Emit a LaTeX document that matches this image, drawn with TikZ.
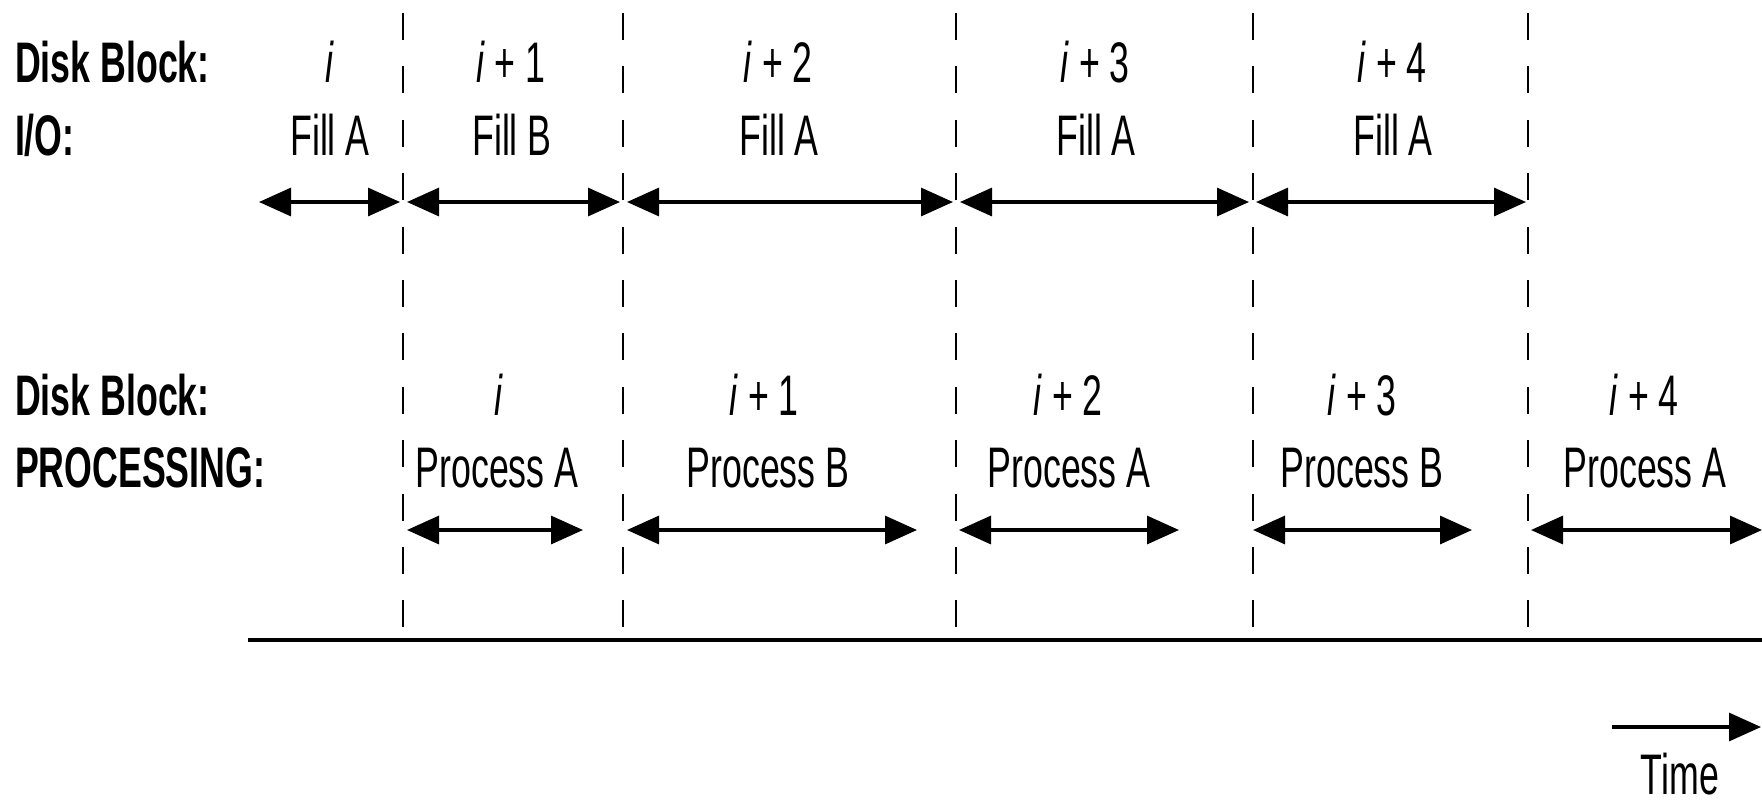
\documentclass[tikz,border=0pt]{standalone}
\usepackage{fontspec}
\setmainfont{Liberation Sans}[FakeStretch=0.625]
\usetikzlibrary{arrows.meta}
\begin{document}
\begin{tikzpicture}[x=0.5pt,y=-0.5pt,
  every node/.style={inner sep=0pt,outer sep=0pt,font=\fontsize{28.6}{34}\selectfont},
  lbl/.style={anchor=base},
  head/.style={anchor=base west,font=\fontsize{28.6}{34}\selectfont\bfseries},
  guide/.style={line width=1.2pt,dash pattern=on 13.5pt off 13.2pt},
  span/.style={line width=1.6pt,{Triangle[length=16pt,width=14pt]}-{Triangle[length=16pt,width=14pt]}},
  timearrow/.style={line width=1.6pt,-{Triangle[length=16pt,width=14pt]}},
  baseline/.style={line width=1.8pt}]
\useasboundingbox (0,0) rectangle (1762,805);
% dashed guide lines
\foreach \n/\x in {1/403,2/623,3/956,4/1253,5/1528}{
  \coordinate (gt\n) at (\x,13);
  \coordinate (gb\n) at (\x,627);
  \draw[guide] (gt\n) -- (gb\n);
}
% headings
\node[head] (h1) at (15,82) {Disk Block:};
\node[head] (h2) at (15,155) {I/O:};
\node[head] (h3) at (15,415) {Disk Block:};
\node[head] (h4) at (15,487) {PROCESSING:};
% I/O row labels
\node[lbl] (ta1) at (330,82) {\textit{i}};
\node[lbl] (ta2) at (511,82) {\textit{i} + 1};
\node[lbl] (ta3) at (778,82) {\textit{i} + 2};
\node[lbl] (ta4) at (1095,82) {\textit{i} + 3};
\node[lbl] (ta5) at (1392,82) {\textit{i} + 4};
\node[lbl] (tb1) at (330,155) {Fill A};
\node[lbl] (tb2) at (512,155) {Fill B};
\node[lbl] (tb3) at (779,155) {Fill A};
\node[lbl] (tb4) at (1096,155) {Fill A};
\node[lbl] (tb5) at (1393,155) {Fill A};
% I/O arrows
\foreach \n/\a/\b in {1/259/400,2/407/620,3/627/953,4/960/1249,5/1256/1526}{
  \coordinate (ioL\n) at (\a,202);
  \coordinate (ioR\n) at (\b,202);
  \draw[span] (ioL\n) -- (ioR\n);
}
% processing row labels
\node[lbl] (pa1) at (499,415) {\textit{i}};
\node[lbl] (pa2) at (764,415) {\textit{i} + 1};
\node[lbl] (pa3) at (1068,415) {\textit{i} + 2};
\node[lbl] (pa4) at (1362,415) {\textit{i} + 3};
\node[lbl] (pa5) at (1644,415) {\textit{i} + 4};
\node[lbl] (pb1) at (497,487) {Process A};
\node[lbl] (pb2) at (768,487) {Process B};
\node[lbl] (pb3) at (1069,487) {Process A};
\node[lbl] (pb4) at (1362,487) {Process B};
\node[lbl] (pb5) at (1645,487) {Process A};
% processing arrows
\foreach \n/\a/\b in {1/407/583,2/627/917,3/959/1179,4/1253/1472,5/1531/1762}{
  \coordinate (prL\n) at (\a,530);
  \coordinate (prR\n) at (\b,530);
  \draw[span] (prL\n) -- (prR\n);
}
% base line
\coordinate (axL) at (248,640);
\coordinate (axR) at (1762,640);
\draw[baseline] (axL) -- (axR);
% time arrow
\coordinate (tL) at (1612,727);
\coordinate (tR) at (1761,727);
\draw[timearrow] (tL) -- (tR);
\node[lbl] (time) at (1680,794) {Time};
\end{tikzpicture}
\end{document}
